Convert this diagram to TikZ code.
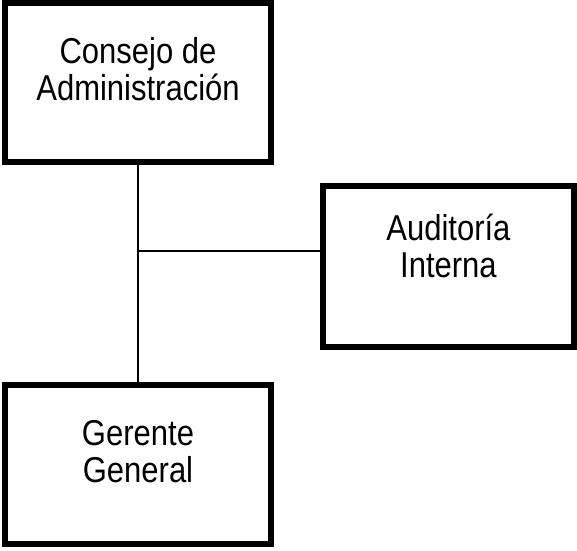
\documentclass[tikz,border=0pt]{standalone}
\usepackage{fontspec}
\setmainfont{Liberation Sans}
\usetikzlibrary{positioning}

\begin{document}
\begin{tikzpicture}[x=1pt,y=-1pt,
  caja/.style={draw, line width=6pt, minimum width=266pt, minimum height=158.5pt, inner sep=0pt},
  texto/.style={align=center, font=\fontsize{31}{32.3}\selectfont, yscale=1.16, transform shape},
  linea/.style={line width=2pt}]
 \useasboundingbox (0,0) rectangle (577,550);
 \node (consejo)   [caja] at (138,82.3) {};
 \node (auditoria) [caja, minimum width=250.5pt, minimum height=160.5pt] at (448.4,266.5) {};
 \node (gerente)   [caja] at (138,464.6) {};

 \node (consejo-t)   [texto] at ([yshift=13pt]consejo.center)    {Consejo de\\Administración};
 \node (auditoria-t) [texto] at ([yshift=20.5pt]auditoria.center) {Auditoría\\Interna};
 \node (gerente-t)   [texto] at ([yshift=12.8pt]gerente.center)   {Gerente\\General};

 \coordinate (union) at (138,251);
 \draw[linea] (consejo.south) -- (gerente.north);
 \draw[linea] (union) -- (auditoria.west |- union);
\end{tikzpicture}
\end{document}
